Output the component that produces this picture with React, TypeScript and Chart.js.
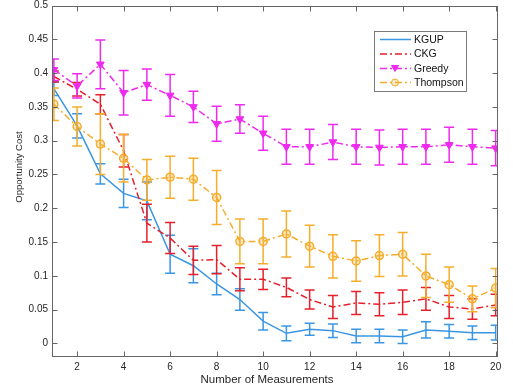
import { useEffect, useRef } from "react";
import { Chart, registerables } from "chart.js";

Chart.register(...registerables);

const measurements = [1, 2, 3, 4, 5, 6, 7, 8, 9, 10, 11, 12, 13, 14, 15, 16, 17, 18, 19, 20];

const kgupMean = [0.377, 0.322, 0.251, 0.222, 0.211, 0.132, 0.115, 0.088, 0.065, 0.033, 0.015, 0.021, 0.019, 0.011, 0.011, 0.010, 0.020, 0.018, 0.016, 0.016];
const kgupErr = [0.010, 0.018, 0.015, 0.021, 0.028, 0.028, 0.025, 0.016, 0.016, 0.013, 0.011, 0.009, 0.010, 0.010, 0.010, 0.010, 0.012, 0.010, 0.010, 0.011];

const ckgMean = [0.395, 0.376, 0.354, 0.285, 0.178, 0.156, 0.123, 0.124, 0.095, 0.095, 0.083, 0.065, 0.054, 0.060, 0.058, 0.061, 0.066, 0.054, 0.051, 0.057];
const ckgErr = [0.008, 0.010, 0.014, 0.024, 0.028, 0.023, 0.021, 0.021, 0.017, 0.015, 0.014, 0.014, 0.017, 0.017, 0.017, 0.018, 0.017, 0.017, 0.015, 0.016];

const greedyMean = [0.405, 0.381, 0.413, 0.371, 0.383, 0.367, 0.350, 0.325, 0.332, 0.311, 0.291, 0.291, 0.298, 0.291, 0.290, 0.291, 0.291, 0.294, 0.291, 0.289];
const greedyErr = [0.016, 0.018, 0.036, 0.033, 0.023, 0.031, 0.023, 0.026, 0.021, 0.025, 0.026, 0.026, 0.026, 0.026, 0.026, 0.026, 0.026, 0.026, 0.026, 0.026];

const thompsonMean = [0.354, 0.321, 0.295, 0.274, 0.242, 0.246, 0.243, 0.216, 0.151, 0.151, 0.162, 0.144, 0.129, 0.122, 0.130, 0.132, 0.100, 0.087, 0.066, 0.082];
const thompsonErr = [0.024, 0.029, 0.045, 0.035, 0.030, 0.031, 0.031, 0.040, 0.033, 0.033, 0.034, 0.031, 0.032, 0.030, 0.031, 0.032, 0.032, 0.026, 0.019, 0.029];

const xTickValues = [2, 4, 6, 8, 10, 12, 14, 16, 18, 20];
const yTickValues = [0, 0.05, 0.1, 0.15, 0.2, 0.25, 0.3, 0.35, 0.4, 0.45, 0.5];

const seriesNames = ["KGUP", "CKG", "Greedy", "Thompson"];

const BLUE = "#3a96e2";
const RED = "#e5202a";
const MAGENTA = "#ee2aee";
const ORANGE = "#f5ad2c";
const DASH_DOT = [7, 3, 2, 3];
const FONT = "'Liberation Sans', Arial, sans-serif";
const AXIS_COLOR = "#666666";
const TEXT_COLOR = "#262626";

const points = (values: number[]) => values.map((v, i) => ({ x: measurements[i], y: v }));

// Vertical error bars with caps, drawn right after each series' line
const errorBarPlugin = {
  id: "errorBars",
  afterDatasetDraw(chart: any, args: any) {
    const ds = chart.data.datasets[args.index];
    const errs: number[] | undefined = ds.errors;
    if (!errs) return;
    const yScale = chart.scales.y;
    const { ctx, chartArea } = chart;
    ctx.save();
    ctx.beginPath();
    ctx.rect(chartArea.left, chartArea.top, chartArea.right - chartArea.left, chartArea.bottom - chartArea.top);
    ctx.clip();
    ctx.strokeStyle = ds.borderColor;
    ctx.lineWidth = 1.5;
    ctx.setLineDash([]);
    args.meta.data.forEach((pt: any, i: number) => {
      const v = ds.data[i].y;
      const top = yScale.getPixelForValue(v + errs[i]);
      const bot = yScale.getPixelForValue(v - errs[i]);
      ctx.beginPath();
      ctx.moveTo(pt.x, top);
      ctx.lineTo(pt.x, bot);
      ctx.moveTo(pt.x - 5, top);
      ctx.lineTo(pt.x + 5, top);
      ctx.moveTo(pt.x - 5, bot);
      ctx.lineTo(pt.x + 5, bot);
      ctx.stroke();
    });
    ctx.restore();
  },
};

// Boxed axes with inward ticks, legend box and axis titles
const framePlugin = {
  id: "frame",
  afterDraw(chart: any) {
    const { ctx, chartArea, scales } = chart;
    const { left, right, top, bottom } = chartArea;
    const L = Math.round(left) + 0.5;
    const R = Math.round(right) - 0.5;
    const T = Math.round(top) + 0.5;
    const B = Math.round(bottom) - 0.5;
    ctx.save();
    ctx.strokeStyle = AXIS_COLOR;
    ctx.lineWidth = 1;
    ctx.setLineDash([]);
    ctx.strokeRect(L, T, R - L, B - T);
    ctx.beginPath();
    xTickValues.forEach((v) => {
      const px = Math.round(scales.x.getPixelForValue(v)) + 0.5;
      ctx.moveTo(px, B);
      ctx.lineTo(px, B - 5);
      ctx.moveTo(px, T);
      ctx.lineTo(px, T + 5);
    });
    yTickValues.forEach((v) => {
      const py = Math.round(scales.y.getPixelForValue(v)) + 0.5;
      ctx.moveTo(L, py);
      ctx.lineTo(L + 5, py);
      ctx.moveTo(R, py);
      ctx.lineTo(R - 5, py);
    });
    ctx.stroke();

    // axis titles
    ctx.fillStyle = TEXT_COLOR;
    ctx.textAlign = "center";
    ctx.textBaseline = "middle";
    ctx.font = `11.5px ${FONT}`;
    ctx.fillText("Number of Measurements", 267, 380);
    ctx.save();
    ctx.translate(19, 167);
    ctx.rotate(-Math.PI / 2);
    ctx.font = `9.5px ${FONT}`;
    ctx.fillText("Opportunity Cost", 0, 0);
    ctx.restore();

    // legend
    const lx = 374.5, ly = 31.5, lw = 92, lh = 60;
    ctx.fillStyle = "#ffffff";
    ctx.fillRect(lx, ly, lw, lh);
    ctx.strokeStyle = "#7a7a7a";
    ctx.strokeRect(lx, ly, lw, lh);
    const rowsY = [39.5, 54, 68.5, 82.5];
    chart.data.datasets.forEach((ds: any, i: number) => {
      const y = rowsY[i];
      ctx.strokeStyle = ds.borderColor;
      ctx.lineWidth = 1.5;
      ctx.setLineDash(ds.borderDash || []);
      ctx.beginPath();
      ctx.moveTo(380, y);
      ctx.lineTo(411, y);
      ctx.stroke();
      ctx.setLineDash([]);
      if (ds.pointRadius > 0) {
        ctx.fillStyle = ds.pointBackgroundColor;
        ctx.strokeStyle = ds.borderColor;
        ctx.lineWidth = 1;
        ctx.beginPath();
        if (ds.pointStyle === "triangle") {
          ctx.moveTo(391.5, y - 3);
          ctx.lineTo(398.5, y - 3);
          ctx.lineTo(395, y + 3);
          ctx.closePath();
        } else {
          ctx.arc(395, y, 3.5, 0, Math.PI * 2);
        }
        ctx.fill();
        ctx.stroke();
      }
      ctx.fillStyle = "#111111";
      ctx.textAlign = "left";
      ctx.textBaseline = "middle";
      ctx.font = `10.5px ${FONT}`;
      ctx.fillText(seriesNames[i], 414, y + 0.5);
    });
    ctx.restore();
  },
};

export default function App() {
  const canvasRef = useRef<HTMLCanvasElement | null>(null);

  useEffect(() => {
    const canvas = canvasRef.current;
    if (!canvas) return;
    const chart = new Chart(canvas, {
      type: "line",
      data: {
        datasets: [
          {
            label: seriesNames[0],
            data: points(kgupMean),
            errors: kgupErr,
            borderColor: BLUE,
            backgroundColor: BLUE,
            borderWidth: 1.5,
            pointRadius: 0,
            order: 4,
          },
          {
            label: seriesNames[1],
            data: points(ckgMean),
            errors: ckgErr,
            borderColor: RED,
            backgroundColor: RED,
            borderWidth: 1.5,
            borderDash: DASH_DOT,
            pointRadius: 0,
            order: 3,
          },
          {
            label: seriesNames[2],
            data: points(greedyMean),
            errors: greedyErr,
            borderColor: MAGENTA,
            backgroundColor: MAGENTA,
            pointBackgroundColor: MAGENTA,
            pointBorderColor: MAGENTA,
            borderWidth: 1.5,
            borderDash: DASH_DOT,
            pointStyle: "triangle",
            rotation: 180,
            pointRadius: 4.5,
            pointBorderWidth: 1,
            order: 2,
          },
          {
            label: seriesNames[3],
            data: points(thompsonMean),
            errors: thompsonErr,
            borderColor: ORANGE,
            backgroundColor: ORANGE,
            pointBackgroundColor: "rgba(245,173,44,0.25)",
            pointBorderColor: ORANGE,
            borderWidth: 1.5,
            borderDash: DASH_DOT,
            pointStyle: "circle",
            pointRadius: 4,
            pointBorderWidth: 1.5,
            order: 1,
          },
        ] as any,
      },
      options: {
        responsive: false,
        animation: false,
        devicePixelRatio: 1,
        layout: { padding: { left: 0, top: 4, right: 15, bottom: 0 } },
        plugins: {
          legend: { display: false },
          tooltip: { enabled: false },
        },
        elements: { line: { tension: 0 } },
        scales: {
          x: {
            type: "linear",
            position: "bottom",
            min: 0.92,
            max: 20.1,
            grid: { display: false, drawTicks: false },
            border: { display: false },
            ticks: {
              font: { family: FONT, size: 10 },
              color: TEXT_COLOR,
              padding: 4,
              maxRotation: 0,
              autoSkip: false,
              callback: (v: any) => String(v),
            },
            afterBuildTicks: (scale: any) => {
              scale.ticks = xTickValues.map((value) => ({ value }));
            },
            afterFit: (scale: any) => {
              scale.height = 34;
              scale.paddingLeft = 0;
              scale.paddingRight = 0;
              scale.paddingTop = 0;
              scale.paddingBottom = 0;
            },
          },
          y: {
            type: "linear",
            position: "left",
            min: -0.02,
            max: 0.5,
            grid: { display: false, drawTicks: false },
            border: { display: false },
            ticks: {
              font: { family: FONT, size: 10 },
              color: TEXT_COLOR,
              padding: 4,
              autoSkip: false,
              callback: (v: any) => String(parseFloat(Number(v).toFixed(2))),
            },
            afterBuildTicks: (scale: any) => {
              scale.ticks = yTickValues.map((value) => ({ value }));
            },
            afterFit: (scale: any) => {
              scale.width = 52;
              scale.paddingLeft = 0;
              scale.paddingRight = 0;
              scale.paddingTop = 0;
              scale.paddingBottom = 0;
            },
          },
        },
      },
      plugins: [errorBarPlugin, framePlugin],
    });
    return () => chart.destroy();
  }, []);

  return (
    <div style={{ position: "fixed", left: 0, top: 0, width: 513, height: 391, background: "#ffffff" }}>
      <canvas ref={canvasRef} width={513} height={391} style={{ display: "block", width: 513, height: 391 }} />
    </div>
  );
}
